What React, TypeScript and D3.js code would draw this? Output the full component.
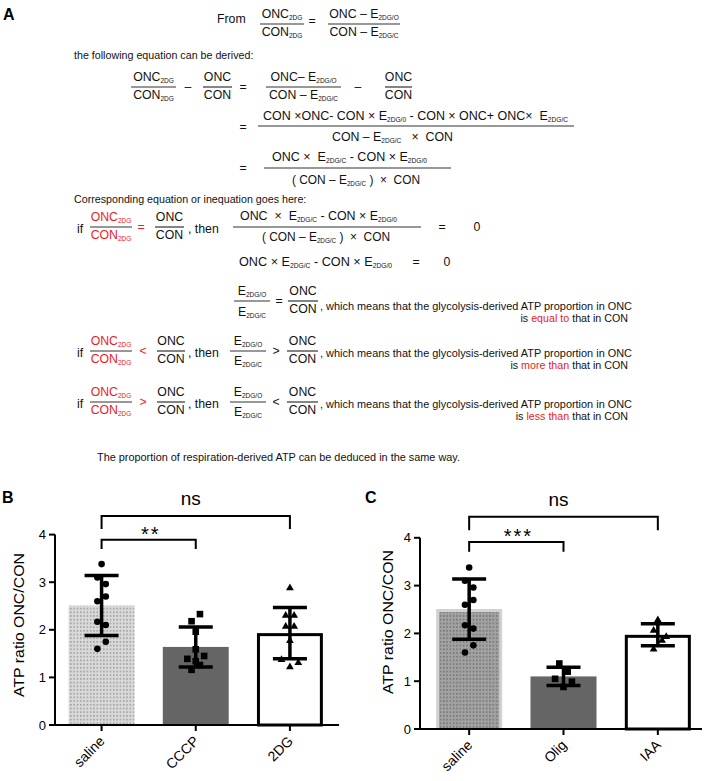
import React from "react";
import * as d3 from "d3";

const FONT = "'Liberation Sans', Arial, Helvetica, sans-serif";
const MF = 12.3;
const SUB = 6.5;
const SUBDY = 1.5;
const BODY = 10.7;
const RED = "#ec1c24";
const INK = "#111";

// ---------- chart data ----------
const catsB = ["saline", "CCCP", "2DG"];
const meansB = [2.51, 1.64, 1.93];
const sdsB = [0.63, 0.42, 0.54];
const catsC = ["saline", "Olig", "IAA"];
const meansC = [2.51, 1.1, 1.97];
const sdsC = [0.63, 0.19, 0.23];

const salinePts = [3.38, 3.1, 2.96, 2.7, 2.6, 2.17, 2.1, 1.75, 1.6];
const salineSlots = [0, -1, 1, 1, -1, -1, 1, 1, -1];
const cccpPts = [2.33, 2.18, 1.96, 1.59, 1.45, 1.39, 1.34, 1.26, 1.16];
const cccpSlots = [1, -1, 0, 0, 2, -2, 0, 1, -1];
const dgPts = [2.88, 2.3, 2.3, 2.07, 2.07, 1.77, 1.37, 1.31, 1.22];
const dgSlots = [0, -1, 1, -1, 1, 0, -2, 2, 0];
const oligPts = [1.37, 1.2, 1.05, 0.99, 0.88];
const oligSlots = [-1, 1, -2, 2, 0];
const iaaPts = [2.28, 2.06, 1.93, 1.85, 1.67];
const iaaSlots = [0, -1, 2, 1, -1];

const yTicks = [0, 1, 2, 3, 4];
const bracketB = [4.39, 4.12, 3.89, 3.7];
const bracketC = [4.44, 4.16, 3.91, 3.71];
const sigB = ["**", "ns"];
const sigC = ["***", "ns"];
const yLabel = "ATP ratio ONC/CON";

// ---------- text helpers ----------
function Rich({ s, x, y, anchor = "start", size = MF, fill = INK, len, weight }: any) {
  const parts: { t: string; sub: boolean }[] = [];
  const re = /_\{([^}]*)\}/g;
  let last = 0;
  let m: any;
  while ((m = re.exec(s))) {
    if (m.index > last) parts.push({ t: s.slice(last, m.index), sub: false });
    parts.push({ t: m[1], sub: true });
    last = re.lastIndex;
  }
  if (last < s.length) parts.push({ t: s.slice(last), sub: false });
  let cur = 0;
  return (
    <text
      x={x}
      y={y}
      textAnchor={anchor}
      fontSize={size}
      fill={fill}
      fontWeight={weight}
      textLength={len}
      lengthAdjust={len ? "spacingAndGlyphs" : undefined}
      style={{ whiteSpace: "pre" }}
    >
      {parts.map((p, i) => {
        const target = p.sub ? SUBDY : 0;
        const dy = target - cur;
        cur = target;
        return (
          <tspan key={i} fontSize={p.sub ? SUB : undefined} dy={dy !== 0 ? dy : undefined}>
            {p.t}
          </tspan>
        );
      })}
    </text>
  );
}

function HLine({ x1, x2, y }: any) {
  return <line x1={x1} x2={x2} y1={y} y2={y} stroke="#333" strokeWidth={1.2} />;
}

function Frac({ x1, x2, y, num, den, fill = INK, nb = 6, db = 12, numLen, denLen }: any) {
  const cx = (x1 + x2) / 2;
  return (
    <g>
      <Rich s={num} x={cx} y={y - nb} anchor="middle" fill={fill} len={numLen} />
      <HLine x1={x1} x2={x2} y={y} />
      <Rich s={den} x={cx} y={y + db} anchor="middle" fill={fill} len={denLen} />
    </g>
  );
}

function Conclusion({ y1, y2, red, rest }: any) {
  return (
    <g>
      <Rich s=", which means that the glycolysis-derived ATP proportion in ONC" x={320} y={y1} size={BODY} len={312} />
      <text x={628} y={y2} textAnchor="end" fontSize={BODY} fill={INK} style={{ whiteSpace: "pre" }}>
        <tspan>is </tspan>
        <tspan fill={RED}>{red}</tspan>
        <tspan>{rest}</tspan>
      </text>
    </g>
  );
}

function IneqRow({ y, s1, s2, red }: any) {
  return (
    <g>
      <Rich s="if" x={77} y={y + 6} />
      <Frac x1={90} x2={132} y={y} num="ONC_{2DG}" den="CON_{2DG}" fill={RED} />
      <Rich s={s1} x={143} y={y + 4} anchor="middle" fill={RED} />
      <Frac x1={157} x2={185} y={y} num="ONC" den="CON" />
      <Rich s=", then" x={188} y={y + 6} />
      <Frac x1={230} x2={266} y={y} num="E_{2DG/O}" den="E_{2DG/C}" db={14} />
      <Rich s={s2} x={276} y={y + 4} anchor="middle" />
      <Frac x1={287} x2={318} y={y} num="ONC" den="CON" />
      <Conclusion y1={y + 6} y2={y + 18} red={red} rest=" that in CON" />
    </g>
  );
}

function SectionA() {
  return (
    <g>
      <text x={3} y={20} fontSize={16} fontWeight="bold" fill="#000">A</text>
      {/* row 1 */}
      <Rich s="From" x={217} y={23} />
      <Frac x1={260} x2={304} y={24} num="ONC_{2DG}" den="CON_{2DG}" />
      <Rich s="=" x={312} y={25} anchor="middle" />
      <Frac x1={328} x2={400} y={24} num="ONC – E_{2DG/O}" den="CON – E_{2DG/C}" />
      <Rich s="the following equation can be derived:" x={74} y={59} size={BODY} />
      {/* row 2 */}
      <Frac x1={131} x2={176} y={87} num="ONC_{2DG}" den="CON_{2DG}" />
      <Rich s="–" x={188} y={91} anchor="middle" />
      <Frac x1={203} x2={232} y={87} num="ONC" den="CON" />
      <Rich s="=" x={243} y={91} anchor="middle" />
      <Frac x1={266} x2={341} y={87} num="ONC– E_{2DG/O}" den="CON – E_{2DG/C}" />
      <Rich s="–" x={358} y={91} anchor="middle" />
      <Frac x1={385} x2={412} y={87} num="ONC" den="CON" />
      {/* row 3 */}
      <Rich s="=" x={243} y={131} anchor="middle" />
      <Rich s="CON ×ONC- CON × E_{2DG/0} - CON × ONC+ ONC×  E_{2DG/C}" x={263} y={120} len={305} />
      <HLine x1={258} x2={574} y={126} />
      <Rich s="CON – E_{2DG/C}   ×  CON" x={332} y={141} len={121} />
      {/* row 4 */}
      <Rich s="=" x={243} y={172} anchor="middle" />
      <Rich s="ONC ×  E_{2DG/C} - CON × E_{2DG/0}" x={272} y={161} len={155} />
      <HLine x1={264} x2={451} y={168} />
      <Rich s="( CON – E_{2DG/C} )  ×  CON" x={292} y={184} len={128} />
      <Rich s="Corresponding equation or inequation goes here:" x={74} y={203} size={BODY} />
      {/* row 5 */}
      <Rich s="if" x={77} y={233} />
      <Frac x1={90} x2={132} y={227} num="ONC_{2DG}" den="CON_{2DG}" fill={RED} />
      <Rich s="=" x={141} y={231} anchor="middle" fill={RED} />
      <Frac x1={155} x2={184} y={227} num="ONC" den="CON" />
      <Rich s=", then" x={188} y={233} />
      <Rich s="ONC  ×  E_{2DG/C} - CON × E_{2DG/0}" x={240} y={220} len={157} />
      <HLine x1={233} x2={421} y={227} />
      <Rich s="( CON – E_{2DG/C} )  ×  CON" x={262} y={241} len={128} />
      <Rich s="=" x={442} y={231} anchor="middle" />
      <Rich s="0" x={477} y={231} anchor="middle" />
      {/* row 6 */}
      <Rich s="ONC × E_{2DG/C} - CON × E_{2DG/0}" x={239} y={266} len={153} />
      <Rich s="=" x={416} y={266} anchor="middle" />
      <Rich s="0" x={447} y={266} anchor="middle" />
      {/* row 7 */}
      <Frac x1={234} x2={270} y={301} num="E_{2DG/O}" den="E_{2DG/C}" db={15} />
      <Rich s="=" x={279} y={305} anchor="middle" />
      <Frac x1={288} x2={318} y={301} num="ONC" den="CON" />
      <Conclusion y1={310} y2={322} red="equal to" rest=" that in CON" />
      {/* rows 8, 9 */}
      <IneqRow y={351} s1="<" s2=">" red="more than" />
      <IneqRow y={402} s1=">" s2="<" red="less than" />
      <Rich
        s="The proportion of respiration-derived ATP can be deduced in the same way."
        x={97}
        y={461}
        size={BODY}
        len={363}
      />
    </g>
  );
}

// ---------- chart panel ----------
function Marker({ shape, cx, cy }: any) {
  if (shape === "circle") return <circle cx={cx} cy={cy} r={3.3} fill="#000" />;
  if (shape === "square") return <rect x={cx - 3.3} y={cy - 3.3} width={6.6} height={6.6} fill="#000" />;
  const p = d3.symbol().type(d3.symbolTriangle).size(26)();
  return <path d={p || ""} transform={`translate(${cx},${cy})`} fill="#000" />;
}

function Panel(props: any) {
  const { cats, means, sds, groups, slots, band, axisX, axisEnd, yRange, dark, levels, sig, letter, letterX, ylabX, ylabY } = props;
  const shapes = ["circle", "square", "triangle"];
  const x = d3.scaleBand().domain(cats).range(band).paddingInner(0.3).paddingOuter(0.15);
  const y = d3.scaleLinear().domain([0, 4]).range(yRange);
  const bw = x.bandwidth();
  const y0 = y(0);
  const cx = (c: string) => (x(c) as number) + bw / 2;
  const slotW = 4.2;
  const capW = 17;
  const c0 = cx(cats[0]);
  const c1 = cx(cats[1]);
  const c2 = cx(cats[2]);
  return (
    <g>
      <text x={letterX} y={503} fontSize={16} fontWeight="bold" fill="#000">{letter}</text>
      {/* bars */}
      {cats.map((c: string, i: number) => {
        const bx = x(c) as number;
        const top = y(means[i]);
        const h = y0 - top;
        if (i === 0) {
          if (!dark)
            return (
              <g key={c}>
                <rect x={bx} y={top} width={bw} height={h} fill="#d9d9d9" />
                <rect x={bx} y={top} width={bw} height={h} fill="url(#dotsL)" />
              </g>
            );
          return (
            <g key={c}>
              <rect x={bx} y={top} width={bw} height={h} fill="#d2d2d2" />
              <rect x={bx + 3} y={top + 3} width={bw - 6} height={h - 3} fill="#a2a2a2" />
              <rect x={bx + 3} y={top + 3} width={bw - 6} height={h - 3} fill="url(#dotsD)" />
            </g>
          );
        }
        if (i === 1) return <rect key={c} x={bx} y={top} width={bw} height={h} fill="#656565" />;
        return (
          <rect key={c} x={bx + 1.5} y={top + 1.5} width={bw - 3} height={h - 1.5} fill="#fff" stroke="#000" strokeWidth={3} />
        );
      })}
      {/* points */}
      {cats.map((c: string, i: number) =>
        groups[i].map((v: number, j: number) => (
          <Marker key={c + j} shape={shapes[i]} cx={cx(c) + slots[i][j] * slotW} cy={y(v)} />
        ))
      )}
      {/* error bars */}
      {cats.map((c: string, i: number) => {
        const xc = cx(c);
        const lo = y(means[i] - sds[i]);
        const hi = y(means[i] + sds[i]);
        return (
          <g key={"e" + c} stroke="#000" strokeWidth={3.5}>
            <line x1={xc} x2={xc} y1={lo} y2={hi} />
            <line x1={xc - capW} x2={xc + capW} y1={hi} y2={hi} />
            <line x1={xc - capW} x2={xc + capW} y1={lo} y2={lo} />
          </g>
        );
      })}
      {/* axes */}
      <line x1={axisX} x2={axisX} y1={y0} y2={y(4)} stroke="#000" strokeWidth={2} />
      <line x1={axisX - 6} x2={axisEnd} y1={y0} y2={y0} stroke="#000" strokeWidth={2} />
      {yTicks.map((t) => (
        <g key={t}>
          <line x1={axisX - 6} x2={axisX} y1={y(t)} y2={y(t)} stroke="#000" strokeWidth={2} />
          <text x={axisX - 9} y={y(t)} dy="0.36em" textAnchor="end" fontSize={13} fill="#000">{t}</text>
        </g>
      ))}
      {cats.map((c: string) => (
        <g key={"t" + c}>
          <line x1={cx(c)} x2={cx(c)} y1={y0} y2={y0 + 6} stroke="#000" strokeWidth={2} />
          <text transform={`translate(${cx(c) + 4},${y0 + 17}) rotate(-45)`} textAnchor="end" fontSize={14} fill="#000">{c}</text>
        </g>
      ))}
      <text transform={`translate(${ylabX},${ylabY}) rotate(-90)`} textAnchor="middle" fontSize={15} fill="#000" textLength={144} lengthAdjust="spacingAndGlyphs">
        {yLabel}
      </text>
      {/* significance brackets */}
      <path d={`M${c0},${y(levels[1])}V${y(levels[0])}H${c2}V${y(levels[1])}`} fill="none" stroke="#000" strokeWidth={2} />
      <path d={`M${c0},${y(levels[3])}V${y(levels[2])}H${c1}V${y(levels[3])}`} fill="none" stroke="#000" strokeWidth={2} />
      <text x={(c0 + c2) / 2 - 5} y={y(levels[0]) - 11} textAnchor="middle" fontSize={19} fill="#000">{sig[1]}</text>
      <text x={(c0 + c1) / 2 + 2} y={y(levels[2]) + 1} textAnchor="middle" fontSize={20} fill="#000" letterSpacing={2}>{sig[0]}</text>
    </g>
  );
}

export default function App() {
  return (
    <svg
      width={708}
      height={781}
      viewBox="0 0 708 781"
      style={{ position: "absolute", left: 0, top: 0, background: "#fff" }}
      fontFamily={FONT}
    >
      <defs>
        <pattern id="dotsL" width={3.3} height={3.7} patternUnits="userSpaceOnUse">
          <circle cx={1.6} cy={1.8} r={0.6} fill="#555" />
        </pattern>
        <pattern id="dotsD" width={3.3} height={3.7} patternUnits="userSpaceOnUse">
          <circle cx={1.6} cy={1.8} r={0.6} fill="#3a3a3a" />
        </pattern>
      </defs>
      <rect width={708} height={781} fill="#fff" />
      <SectionA />
      <Panel
        cats={catsB}
        means={meansB}
        sds={sdsB}
        groups={[salinePts, cccpPts, dgPts]}
        slots={[salineSlots, cccpSlots, dgSlots]}
        band={[54.5, 337]}
        axisX={55}
        axisEnd={339}
        yRange={[725, 534.6]}
        dark={false}
        levels={bracketB}
        sig={sigB}
        letter="B"
        letterX={2}
        ylabX={24}
        ylabY={625}
      />
      <Panel
        cats={catsC}
        means={meansC}
        sds={sdsC}
        groups={[salinePts, oligPts, iaaPts]}
        slots={[salineSlots, oligSlots, iaaSlots]}
        band={[422, 705]}
        axisX={420}
        axisEnd={702}
        yRange={[729, 537.8]}
        dark={true}
        levels={bracketC}
        sig={sigC}
        letter="C"
        letterX={365}
        ylabX={393}
        ylabY={622}
      />
    </svg>
  );
}
